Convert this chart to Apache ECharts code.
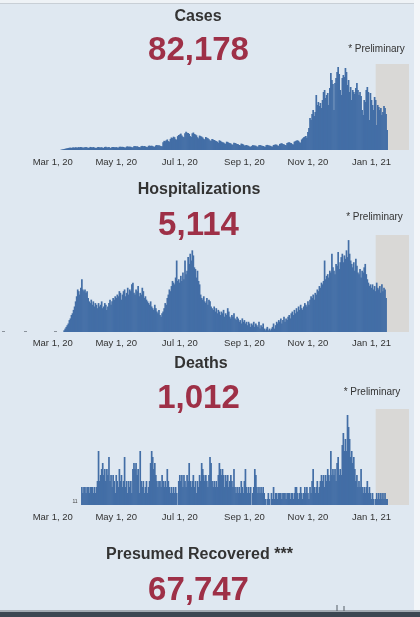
<!DOCTYPE html>
<html>
<head>
<meta charset="utf-8">
<script src="https://cdn.jsdelivr.net/npm/echarts@6/dist/echarts.min.js"></script>
<style>
html,body{margin:0;padding:0;background:#dfe8f1;}
#chart{width:420px;height:617px;}
</style>
</head>
<body>
<div id="chart"></div>
<script>
// ---------- data ----------
const tickDates = ['2020-03-01','2020-05-01','2020-07-01','2020-09-01','2020-11-01','2021-01-01'];
const tickLabels = ['Mar 1, 20','May 1, 20','Jul 1, 20','Sep 1, 20','Nov 1, 20','Jan 1, 21'];
const axisStart = '2020-02-13';
const axisEnd = '2021-02-06';
const prelimStart = '2021-01-05';
const prelimEnd = '2021-02-06';

const panelTitles = ['Cases','Hospitalizations','Deaths','Presumed Recovered ***'];
const panelTotals = ['82,178','5,114','1,012','67,747'];

// daily new cases, starting 2020-03-09
const casesStart = '2020-03-09';
const casesDaily = [
  5,9,13,18,22,27,32,36,40,43,36,45,47,41,50,45,43,52,47,54,49,40,45,
  48,52,44,41,38,55,50,47,53,45,39,36,51,54,48,46,50,42,37,55,58,49,47,52,40,38,53,56,50,48,
  52,45,41,57,60,55,58,54,46,43,62,65,58,61,57,48,45,66,70,63,67,60,52,49,70,74,68,72,65,55,52,
  75,80,72,78,70,60,58,82,88,80,85,78,68,66,140,165,158,175,190,160,150,200,225,215,240,230,195,185,250,270,
  280,295,260,240,230,300,330,310,305,290,250,235,300,315,290,280,265,230,210,260,250,240,225,200,190,235,220,210,195,170,165,
  200,190,180,170,160,150,130,175,165,150,140,135,120,110,150,145,130,125,115,100,95,130,125,115,110,105,90,85,115,110,100,
  80,85,90,82,75,62,58,70,88,84,80,76,65,60,85,90,82,78,72,62,58,88,92,85,80,75,65,62,90,95,
  100,95,80,75,110,115,120,110,105,90,85,125,135,140,130,125,105,100,150,160,170,175,165,140,130,190,210,230,240,250,220,
  324,396,576,540,648,720,612,684,990,810,864,792,846,756,900,1044,1080,936,990,1026,810,1116,1386,1260,1188,720,1206,1296,1404,1494,
  1368,1080,990,1296,1350,1314,1476,1404,1170,1260,1044,1134,900,1080,1044,1008,1116,1206,1080,990,1044,972,720,630,900,864,1080,1134,1044,540,1026,
  900,810,720,954,900,450,810,774,720,756,630,684,792,756,648,360
];

// daily new hospitalizations, starting 2020-03-12
const hospStart = '2020-03-12';
const hospDaily = [
  1,2,3,4,5,7,8,10,11,13,15,18,21,25,24,22,26,31,25,24,
  25,23,24,20,18,17,19,16,18,15,17,16,14,17,15,16,18,14,15,17,16,13,15,17,19,16,18,20,19,21,
  20,22,21,24,23,19,22,24,25,21,23,26,22,25,24,28,29,23,22,25,24,27,21,23,22,26,24,20,21,19,18,
  17,16,18,15,14,13,16,14,12,11,13,10,9,11,12,14,17,16,20,22,25,24,27,30,29,28,32,42,30,31,
  29,33,30,35,31,42,34,36,44,40,46,42,48,45,38,37,32,36,30,28,22,20,19,21,18,17,20,16,19,18,15,
  14,13,15,12,14,11,13,12,10,12,11,13,9,11,10,14,12,9,8,10,9,11,8,7,9,8,6,7,5,8,6,
  7,5,6,4,6,5,3,5,4,6,3,5,4,3,6,2,4,3,5,2,1,2,3,1,2,1,2,3,5,2,
  4,6,5,7,6,8,5,7,9,6,8,7,9,10,8,11,12,10,13,11,14,12,15,13,16,14,13,15,17,16,15,
  18,16,19,21,20,22,19,23,22,25,24,27,26,29,28,30,42,31,33,34,32,36,35,46,38,36,34,40,39,47,
  37,41,44,46,41,45,43,48,44,54,46,42,40,38,41,36,43,39,35,34,37,32,36,35,38,40,34,31,29,27,28,
  26,28,25,27,24,29,26,25,27,23,28,24,26,25,20
];

// daily deaths, starting 2020-03-29
const deathsStart = '2020-03-29';
const deathsDaily = [
  3,2,3,3,2,3,3,2,3,3,3,2,3,2,3,
  4,9,4,5,6,7,5,6,4,6,5,8,4,5,3,5,4,2,
  5,4,3,6,4,5,3,4,8,3,4,2,4,3,4,2,6,7,6,7,
  5,6,2,9,4,3,4,2,3,4,2,3,4,7,9,8,6,7,5,4,
  3,4,4,3,5,4,3,4,3,6,4,3,2,3,2,3,2,3,2,0,
  4,5,4,5,3,5,4,3,5,4,7,4,3,4,5,3,4,2,4,3,
  5,4,7,6,5,4,5,4,3,5,8,7,4,3,4,3,4,3,5,7,
  6,5,6,5,3,5,4,5,3,4,5,4,3,6,3,2,3,2,3,2,
  4,3,2,4,6,3,2,3,2,3,0,2,3,6,5,3,2,3,2,3,
  2,3,2,1,0,1,2,1,0,2,1,3,1,2,2,1,2,2,2,1,
  2,2,2,1,2,2,2,1,2,2,1,2,3,3,2,1,2,3,2,1,
  2,3,2,3,2,1,3,2,4,6,3,2,3,4,2,3,4,5,4,5,
  3,5,4,6,5,4,9,5,6,5,6,4,7,8,5,6,5,10,12,9,
  11,9,15,13,11,8,9,7,8,6,4,5,3,4,3,6,3,2,3,2,
  3,4,2,3,2,1,2,1,0,1,2,1,2,1,2,1,2,1,2,1,1
];

const yMax = [1548, 57, 16];

// ---------- build ----------
const DAY = 86400000;
const ORIGIN = Date.parse('2020-03-01');
function dayIdx(s) { return Math.round((Date.parse(s) - ORIGIN) / DAY); }
function toPairs(start, vals) {
  const d0 = dayIdx(start);
  return vals.map((v, i) => [d0 + i, v]);
}
const seriesData = [toPairs(casesStart, casesDaily), toPairs(hospStart, hospDaily), toPairs(deathsStart, deathsDaily)];
const tickValues = tickDates.map(dayIdx);
const FONT = '"Liberation Sans", Arial, sans-serif';
const BAR = '#436ea6';
const RED = '#9e3047';

const gridTops = [64, 235, 409];
const gridHeights = [86, 97, 96];
const labelMargins = [7, 6, 7];

const grids = [], xAxes = [], yAxes = [], series = [];
for (let i = 0; i < 3; i++) {
  grids.push({left: 35, right: 11, top: gridTops[i], height: gridHeights[i]});
  xAxes.push({
    type: 'value', gridIndex: i,
    min: dayIdx(axisStart), max: dayIdx(axisEnd),
    axisLine: {show: false}, axisTick: {show: false}, splitLine: {show: false},
    axisLabel: {
      customValues: tickValues,
      margin: labelMargins[i],
      color: '#333333', fontSize: 9.5, fontFamily: FONT,
      formatter: function (v) {
        const idx = tickValues.indexOf(v);
        return idx >= 0 ? tickLabels[idx] : '';
      }
    }
  });
  yAxes.push({type: 'value', gridIndex: i, min: 0, max: yMax[i], show: false});
  series.push({
    type: 'line', xAxisIndex: i, yAxisIndex: i, data: [], z: 1, silent: true,
    markArea: {silent: true, itemStyle: {color: '#d9d8d6'},
      data: [[{xAxis: dayIdx(prelimStart)}, {xAxis: dayIdx(prelimEnd)}]]}
  });
  series.push({
    type: 'bar', xAxisIndex: i, yAxisIndex: i, data: seriesData[i], z: 2,
    barWidth: 1.7, itemStyle: {color: BAR}
  });
}

function txt(x, y, text, font, fill) {
  return {type: 'text', x: x, y: y, silent: true,
    style: {text: text, font: font, fill: fill, textAlign: 'center', textVerticalAlign: 'middle'}};
}
const titleY = [17, 190, 364, 555];
const titleX = [198, 199, 201, 199.5];
const totalY = [51, 226, 399, 591];
const prelimPos = [[376.5, 49], [374.5, 217], [372, 392]];

const graphics = [
  {type: 'rect', shape: {x: 0, y: 0, width: 420, height: 3}, style: {fill: '#eef2f6'}, silent: true},
  {type: 'rect', shape: {x: 0, y: 3, width: 420, height: 1}, style: {fill: '#c8cfd6'}, silent: true},
  {type: 'rect', shape: {x: 414, y: 0, width: 6, height: 611}, style: {fill: '#f3f6f9'}, silent: true},
  {type: 'rect', shape: {x: 0, y: 610, width: 420, height: 2}, style: {fill: '#a3abb3'}, silent: true},
  {type: 'rect', shape: {x: 0, y: 612, width: 420, height: 5}, style: {fill: '#3c4752'}, silent: true},
  {type: 'rect', shape: {x: 336.5, y: 605, width: 1, height: 6}, style: {fill: '#555d66'}, silent: true},
  {type: 'rect', shape: {x: 343.5, y: 606, width: 1, height: 5}, style: {fill: '#555d66'}, silent: true},
  {type: 'rect', shape: {x: 2, y: 331, width: 3, height: 1}, style: {fill: '#8a929b'}, silent: true},
  {type: 'rect', shape: {x: 24, y: 331, width: 3, height: 1}, style: {fill: '#8a929b'}, silent: true},
  {type: 'rect', shape: {x: 54, y: 331, width: 3, height: 1}, style: {fill: '#8a929b'}, silent: true}
];
for (let i = 0; i < 4; i++) {
  graphics.push(txt(titleX[i], titleY[i], panelTitles[i], 'bold 16px ' + FONT, '#333333'));
  graphics.push(txt(198.5, totalY[i], panelTotals[i], 'bold 33px ' + FONT, RED));
}
for (let i = 0; i < 3; i++) {
  graphics.push(txt(prelimPos[i][0], prelimPos[i][1], '* Preliminary', '10px ' + FONT, '#333333'));
}
graphics.push(txt(75, 502, '11', '5px ' + FONT, '#444'));

const chart = echarts.init(document.getElementById('chart'), null, {renderer: 'canvas'});
chart.setOption({
  backgroundColor: '#dfe8f1',
  animation: false,
  grid: grids, xAxis: xAxes, yAxis: yAxes, series: series,
  graphic: {elements: graphics}
});
</script>
</body>
</html>
